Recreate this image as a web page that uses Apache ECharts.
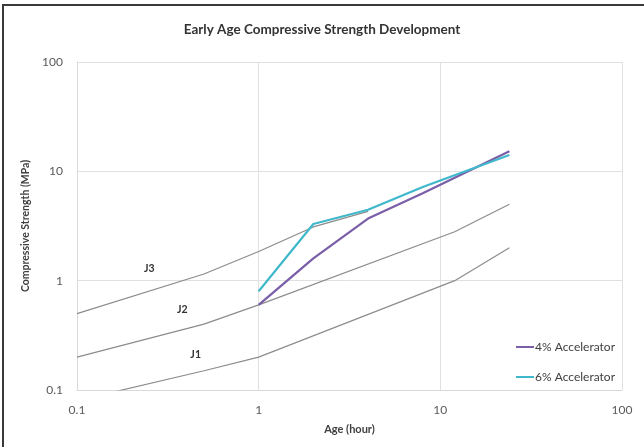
<!DOCTYPE html>
<html>
<head>
<meta charset="utf-8">
<script src="https://cdn.jsdelivr.net/npm/echarts@6/dist/echarts.min.js"></script>
<style>
    html, body { margin: 0; padding: 0; background: #fff; }
    #main { width: 644px; height: 447px; }
    #frame { position: absolute; left: 2px; top: 4px; width: 700px; height: 500px;
             border-top: 2px solid #3a3a3a; border-left: 2px solid #3a3a3a; pointer-events: none; }
</style>
</head>
<body>
<div id="main"></div>
<div id="frame"></div>
<script>
// J curves (boundary lines)
var j1Age = [0.1, 0.5, 1, 12, 24];
var j1Mpa = [0.08, 0.15, 0.2, 1.0, 2.0];
var j2Age = [0.1, 0.5, 1, 12, 24];
var j2Mpa = [0.2, 0.4, 0.6, 2.8, 5.0];
var j3Age = [0.1, 0.5, 1, 2, 4];
var j3Mpa = [0.5, 1.15, 1.85, 3.1, 4.3];

// test results
var acc4Age = [1, 2, 4, 8, 24];
var acc4Mpa = [0.6, 1.6, 3.7, 6.3, 15.3];
var acc6Age = [1, 2, 4, 8, 24];
var acc6Mpa = [0.8, 3.3, 4.45, 7.2, 14.1];

// label anchors for the J curves
var jNames = ['J1', 'J2', 'J3'];
var jLabelAt = [[0.45, 0.21], [0.38, 0.54], [0.25, 1.3]];

var yTicks = [0.1, 1, 10, 100];

function pairs(xs, ys) {
    return xs.map(function (x, i) { return [x, ys[i]]; });
}

function jSeries(idx, xs, ys) {
    return {
        name: jNames[idx],
        type: 'line',
        symbol: 'none',
        silent: true,
        lineStyle: { color: '#8c8c8c', width: 1.2 },
        data: pairs(xs, ys),
        markPoint: {
            symbol: 'circle',
            symbolSize: 0,
            label: {
                show: true,
                position: 'inside',
                formatter: '{b}',
                color: '#333',
                fontWeight: 'bold',
                fontSize: 10.5,
                fontFamily: 'Lato'
            },
            data: [{ name: jNames[idx], coord: jLabelAt[idx] }]
        }
    };
}

var chart = echarts.init(document.getElementById('main'));
var option = {
    backgroundColor: '#fff',
    animation: false,
    textStyle: { fontFamily: 'Lato' },
    title: {
        text: 'Early Age Compressive Strength Development',
        left: 'center',
        top: 18,
        textStyle: { fontSize: 13.5, fontWeight: 'bold', color: '#333', fontFamily: 'Lato' }
    },
    legend: {
        orient: 'vertical',
        right: 24,
        top: 336,
        icon: 'rect',
        itemWidth: 18,
        itemHeight: 2,
        itemGap: 18,
        data: ['4% Accelerator', '6% Accelerator'],
        textStyle: { fontSize: 12, color: '#404040', padding: [0, 0, 0, -4] }
    },
    grid: { left: 77, right: 22, top: 62, bottom: 57 },
    xAxis: {
        type: 'log',
        logBase: 10,
        min: 0.1,
        max: 100,
        name: 'Age (hour)',
        nameLocation: 'middle',
        nameGap: 34,
        nameTextStyle: { fontSize: 11, fontWeight: 'bold', color: '#404040' },
        axisLine: { lineStyle: { color: '#d9d9d9' } },
        axisTick: { show: false },
        axisLabel: { fontSize: 12, color: '#595959', margin: 14 },
        splitLine: { show: true, lineStyle: { color: '#e0e0e0' } }
    },
    yAxis: {
        type: 'log',
        logBase: 10,
        min: yTicks[0],
        max: yTicks[yTicks.length - 1],
        name: 'Compressive Strength (MPa)',
        nameLocation: 'middle',
        nameGap: 46,
        nameTextStyle: { fontSize: 10.5, fontWeight: 'bold', color: '#404040' },
        axisLine: { show: true, lineStyle: { color: '#d9d9d9' } },
        axisTick: { show: false },
        axisLabel: { fontSize: 12, color: '#595959', margin: 14 },
        splitLine: { show: true, lineStyle: { color: '#e0e0e0' } }
    },
    series: [
        jSeries(0, j1Age, j1Mpa),
        jSeries(1, j2Age, j2Mpa),
        jSeries(2, j3Age, j3Mpa),
        {
            name: '4% Accelerator',
            type: 'line',
            symbol: 'none',
            color: '#7a5ea8',
            lineStyle: { color: '#7a5ea8', width: 2.2 },
            data: pairs(acc4Age, acc4Mpa)
        },
        {
            name: '6% Accelerator',
            type: 'line',
            symbol: 'none',
            color: '#40b8cc',
            lineStyle: { color: '#40b8cc', width: 2.2 },
            data: pairs(acc6Age, acc6Mpa)
        }
    ]
};
chart.setOption(option);
</script>
</body>
</html>
